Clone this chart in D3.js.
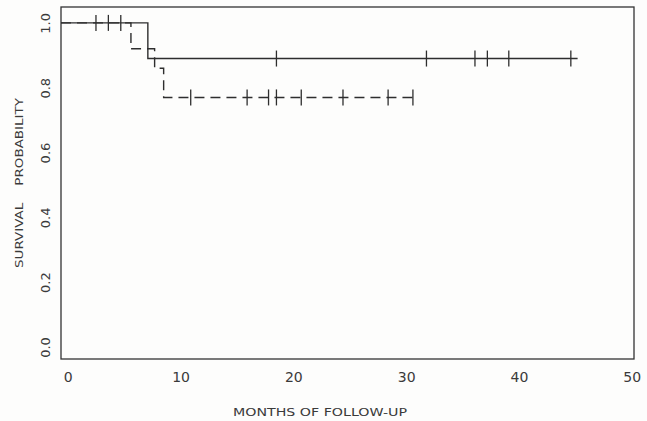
<!DOCTYPE html>
<html>
<head>
<meta charset="utf-8">
<script src="https://cdn.jsdelivr.net/npm/d3@7"></script>
<style>
  body { margin: 0; background: #fdfdfc; }
  text { font-family: "DejaVu Sans", sans-serif; fill: #3a3a3a; }
</style>
</head>
<body>
<div id="chart"></div>
<script>
// Kaplan-Meier steps
var solidTimes = [0, 7.1];
var solidSurv = [1.0, 0.89];
var solidEnd = 45.2;
var solidCensor = [2.5, 3.6, 4.7, 18.5, 31.8, 36.1, 37.2, 39.1, 44.6];

var dashedTimes = [0, 5.6, 7.7, 8.5];
var dashedSurv = [1.0, 0.92, 0.86, 0.77];
var dashedEnd = 30.6;
var dashedCensor = [10.9, 15.9, 17.8, 18.5, 20.7, 24.4, 28.4, 30.6];

var xTicks = [0, 10, 20, 30, 40, 50];
var yTicks = [0.0, 0.2, 0.4, 0.6, 0.8, 1.0];

var width = 647, height = 421;
var margin = {top: 7, right: 13, bottom: 62, left: 61};

var svg = d3.select("#chart")
    .append("svg")
    .attr("width", width)
    .attr("height", height);

var x = d3.scaleLinear()
    .domain([-0.6, 50.2])
    .range([margin.left, width - margin.right]);

var y = d3.scaleLinear()
    .domain([-0.037, 1.049])
    .range([height - margin.bottom, margin.top]);

// frame
svg.append("rect")
    .attr("x", x.range()[0])
    .attr("y", y.range()[1])
    .attr("width", x.range()[1] - x.range()[0])
    .attr("height", y.range()[0] - y.range()[1])
    .attr("fill", "none")
    .attr("stroke", "#333")
    .attr("stroke-width", 1.3);

// axes, labels only (no tick marks in the original)
var xAxis = svg.append("g")
    .attr("transform", "translate(0," + y.range()[0] + ")")
    .call(d3.axisBottom(x).tickValues(xTicks).tickSize(0).tickPadding(13));
xAxis.select(".domain").remove();
xAxis.selectAll("text")
    .attr("font-size", 14)
    .attr("font-family", "DejaVu Sans, sans-serif")
    .attr("fill", "#3a3a3a");

var yAxis = svg.append("g")
    .attr("transform", "translate(" + x.range()[0] + ",0)")
    .call(d3.axisLeft(y).tickValues(yTicks).tickFormat(d3.format(".1f")).tickSize(0));
yAxis.select(".domain").remove();
yAxis.selectAll("text")
    .attr("font-size", 13)
    .attr("font-family", "DejaVu Sans, sans-serif")
    .attr("fill", "#3a3a3a")
    .attr("text-anchor", "middle")
    .attr("x", 0)
    .attr("transform", "translate(-16,0) rotate(-90)")
    .attr("dy", "0.35em");

// axis titles
svg.append("text")
    .attr("x", 320)
    .attr("y", 416)
    .attr("text-anchor", "middle")
    .attr("font-size", 11)
    .attr("textLength", 174)
    .attr("lengthAdjust", "spacingAndGlyphs")
    .text("MONTHS OF FOLLOW-UP");

svg.append("text")
    .attr("transform", "translate(23,183) rotate(-90)")
    .attr("text-anchor", "middle")
    .attr("font-size", 11)
    .attr("textLength", 170)
    .attr("lengthAdjust", "spacingAndGlyphs")
    .style("white-space", "pre")
    .text("SURVIVAL    PROBABILITY");

// curves start at the left edge of the frame, as in the original
function stepPoints(times, surv, end) {
  var pts = [];
  times.forEach(function(t, i) {
    if (i === 0) { pts.push([x.domain()[0], surv[0]]); return; }
    pts.push([t, surv[i - 1]]);
    pts.push([t, surv[i]]);
  });
  pts.push([end, surv[surv.length - 1]]);
  return pts;
}

function survAt(times, surv, t) {
  var s = surv[0];
  times.forEach(function(tt, i) { if (tt <= t) s = surv[i]; });
  return s;
}

var line = d3.line()
    .x(function(d) { return x(d[0]); })
    .y(function(d) { return y(d[1]); });

var ink = "#2e2e2e";

svg.append("path")
    .datum(stepPoints(solidTimes, solidSurv, solidEnd))
    .attr("d", line)
    .attr("fill", "none")
    .attr("stroke", ink)
    .attr("stroke-width", 1.4);

svg.append("path")
    .datum(stepPoints(dashedTimes, dashedSurv, dashedEnd))
    .attr("d", line)
    .attr("fill", "none")
    .attr("stroke", ink)
    .attr("stroke-width", 1.4)
    .attr("stroke-dasharray", "10,6");

function censorMarks(list, times, surv) {
  svg.append("g")
      .selectAll("line")
      .data(list)
      .enter()
      .append("line")
      .attr("x1", function(d) { return x(d); })
      .attr("x2", function(d) { return x(d); })
      .attr("y1", function(d) { return y(survAt(times, surv, d)) - 8; })
      .attr("y2", function(d) { return y(survAt(times, surv, d)) + 8; })
      .attr("stroke", ink)
      .attr("stroke-width", 1.3);
}

censorMarks(solidCensor, solidTimes, solidSurv);
censorMarks(dashedCensor, dashedTimes, dashedSurv);
</script>
</body>
</html>
